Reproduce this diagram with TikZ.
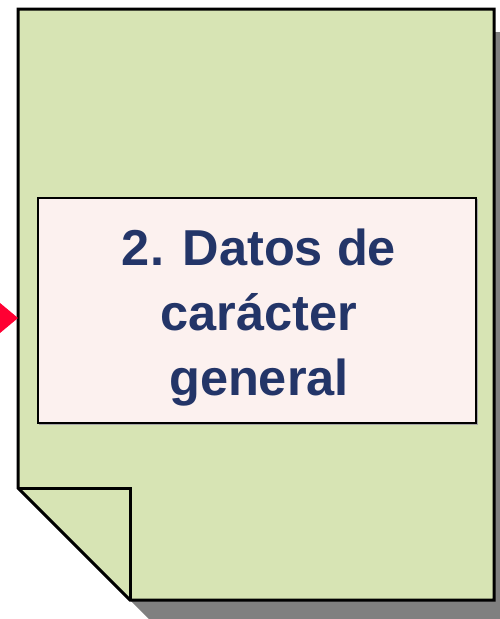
\documentclass[tikz,border=0pt]{standalone}
\usepackage{fontspec}
\setmainfont{Liberation Sans}
\definecolor{pagegreen}{HTML}{D7E4B4}
\definecolor{boxpink}{HTML}{FCF1EF}
\definecolor{navy}{HTML}{233568}
\definecolor{shadowgray}{HTML}{808080}
\definecolor{arrowred}{HTML}{FF0033}
\tikzset{
  pageshape/.style={draw=black, line width=3pt, fill=pagegreen, line join=miter},
  foldline/.style={draw=black, line width=3pt, line join=miter},
  titlebox/.style={draw=black, line width=2.5pt, fill=boxpink, minimum width=438pt, minimum height=225pt, inner sep=0pt},
  titletextstyle/.style={inner sep=0pt, align=center, text=navy, font=\fontsize{50.5pt}{65pt}\selectfont\bfseries},
}
\begin{document}
\begin{tikzpicture}[x=1pt,y=-1pt]
\useasboundingbox (0,0) rectangle (500,619);
\begin{scope}
\clip (0,0) rectangle (500,619);
% shadow
\fill[shadowgray] (41,32) -- (517,32) -- (517,623) -- (153,623) -- (41,511) -- cycle;
% page
\path[pageshape] (18,9) -- (494,9) -- (494,600) -- (130,600) -- (18,488) -- cycle;
\path[foldline] (18,488) -- (130,488) -- (130,600);
% incoming arrow head
\coordinate (arrowtip) at (18,318);
\fill[arrowred] (-8,296.3) -- (arrowtip) -- (-8,339.7) -- cycle;
\end{scope}
% title box
\fill[shadowgray!70] (38.5,199) rectangle (477.5,424.5);
\node[titlebox] (title) at (257,310.5) {};
\node[titletextstyle] (titletext) at (259,318) {2. Datos de\\carácter\\general};
\end{tikzpicture}
\end{document}
